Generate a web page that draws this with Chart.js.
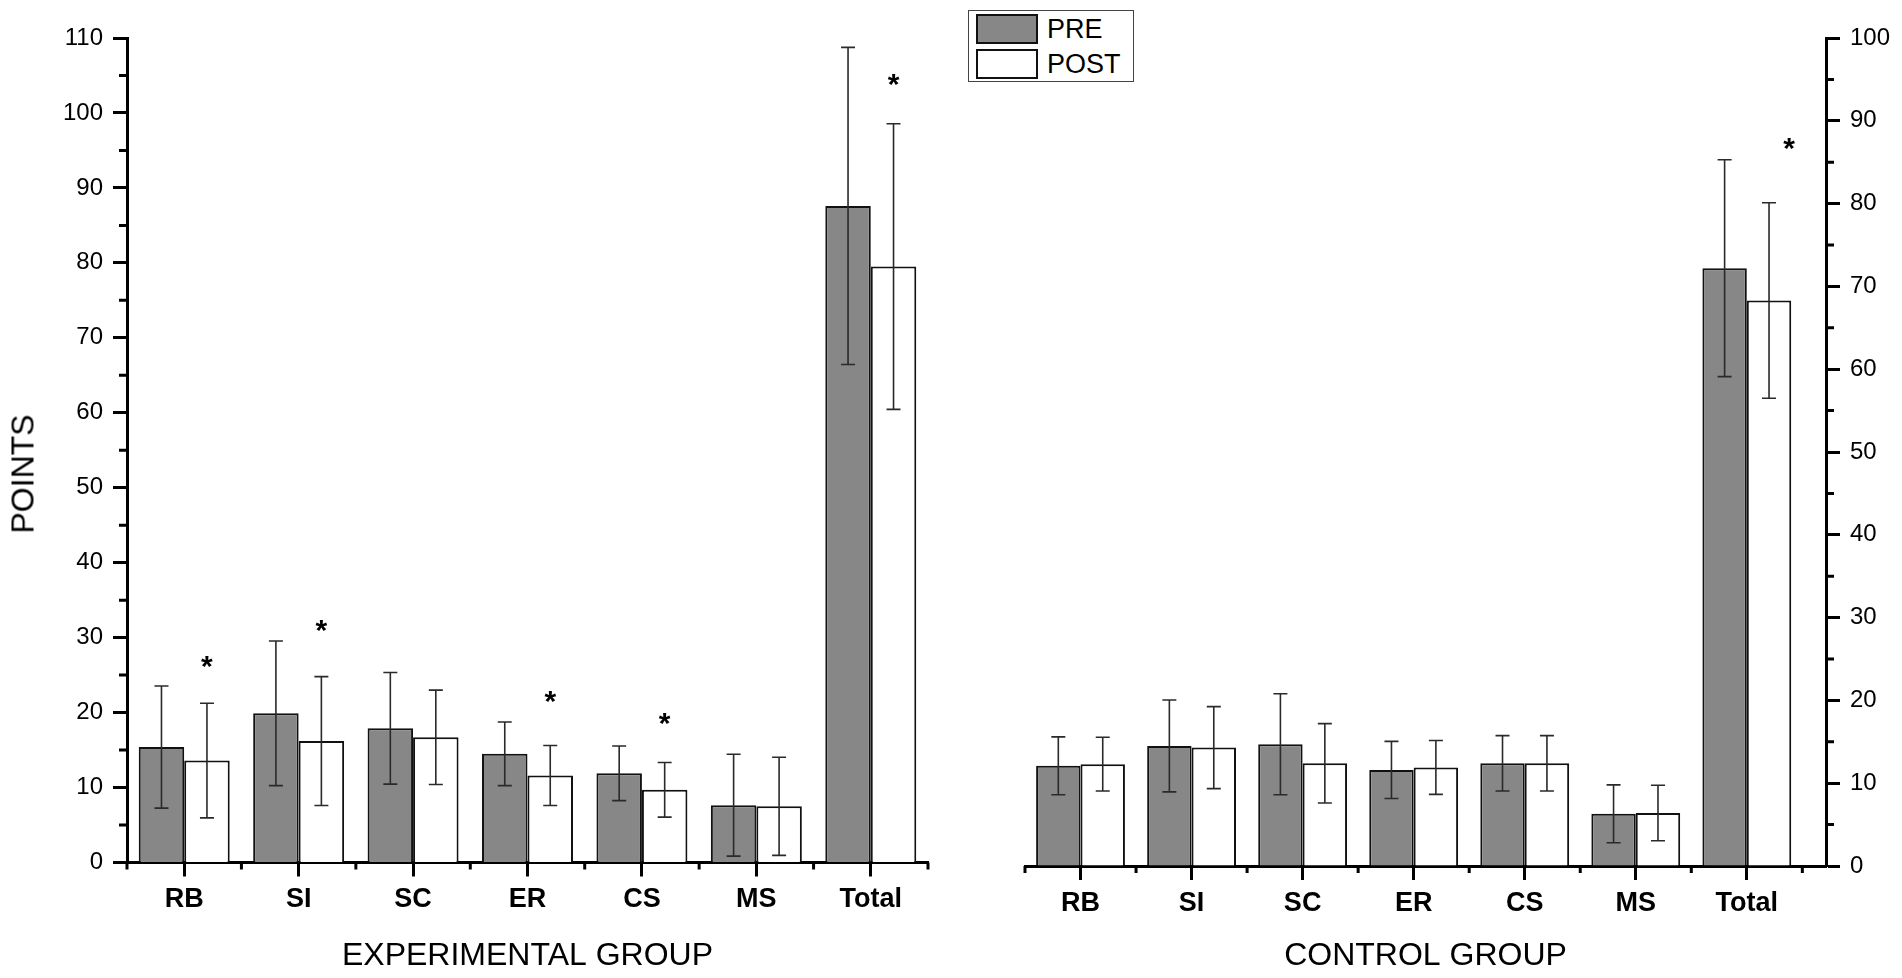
<!DOCTYPE html>
<html>
<head>
<meta charset="utf-8">
<title>PRE / POST points by group</title>
<script src="https://cdn.jsdelivr.net/npm/chart.js@4.4.1/dist/chart.umd.min.js"></script>
<style>
  html, body { margin: 0; padding: 0; background: #fff; }
  body {
    width: 1902px;
    height: 978px;
    position: relative;
    overflow: hidden;
    font-family: "Liberation Sans", Arial, sans-serif;
    color: #000;
  }
  canvas { position: absolute; left: 0; top: 0; }
  .y-title {
    position: absolute;
    left: 23px;
    top: 474px;
    transform: translate(-50%, -50%) rotate(-90deg);
    font-size: 32px;
    white-space: nowrap;
  }
  .legend {
    position: absolute;
    left: 968px;
    top: 10px;
    width: 164px;
    height: 70px;
    border: 1.5px solid #444;
    background: #fff;
  }
  .legend-item { position: absolute; left: 7px; height: 30px; }
  .legend-swatch {
    position: absolute;
    left: 0;
    top: 0;
    width: 58px;
    height: 26px;
    border: 2px solid #111;
  }
  .legend-label {
    position: absolute;
    left: 71px;
    top: 0;
    line-height: 30px;
    font-size: 27px;
  }
</style>
</head>
<body>
<canvas id="expChart" width="1902" height="978"></canvas>
<canvas id="ctlChart" width="1902" height="978"></canvas>
<div class="y-title">POINTS</div>
<div class="legend" id="legend"></div>

<script>
const categories = ["RB", "SI", "SC", "ER", "CS", "MS", "Total"];
const seriesNames = ["PRE", "POST"];

// Experimental group (left axis)
const expPre = [15.4, 19.9, 17.9, 14.5, 11.9, 7.65, 87.6];
const expPreSd = [8.15, 9.65, 7.45, 4.25, 3.65, 6.8, 21.15];
const expPost = [13.6, 16.2, 16.7, 11.6, 9.7, 7.5, 79.5];
const expPostSd = [7.65, 8.6, 6.3, 4.0, 3.65, 6.55, 19.05];
const expStars = [26.7, 31.5, null, 22.1, 19.1, null, 104.4];
const expTicks = [0, 10, 20, 30, 40, 50, 60, 70, 80, 90, 100, 110];

// Control group (right axis)
const ctlPre = [12.1, 14.5, 14.7, 11.6, 12.4, 6.3, 72.2];
const ctlPreSd = [3.5, 5.55, 6.1, 3.45, 3.35, 3.5, 13.1];
const ctlPost = [12.3, 14.3, 12.4, 11.9, 12.4, 6.4, 68.3];
const ctlPostSd = [3.25, 4.95, 4.8, 3.25, 3.35, 3.35, 11.8];
const ctlStars = [null, null, null, null, null, null, 87.2];
const ctlTicks = [0, 10, 20, 30, 40, 50, 60, 70, 80, 90, 100];

const PRE_COLOR = "#878787";
const POST_COLOR = "#ffffff";
const EDGE = "#111111";
const FONT = '"Liberation Sans", Arial, sans-serif';

Chart.defaults.font.family = FONT;
Chart.defaults.color = "#000";

document.addEventListener("DOMContentLoaded", () => {
  buildLegend();

  buildChart("expChart", {
    title: "EXPERIMENTAL GROUP",
    pre: expPre, preSd: expPreSd,
    post: expPost, postSd: expPostSd,
    stars: expStars, starDx: 0,
    yTicks: expTicks, yPosition: "left",
    xMax: categories.length - 0.5,
    padding: { left: 0, top: 38, right: 974, bottom: 0 },
    yWidth: 127, xHeight: 115.5,
    catPct: 0.795,
  });

  buildChart("ctlChart", {
    title: "CONTROL GROUP",
    pre: ctlPre, preSd: ctlPreSd,
    post: ctlPost, postSd: ctlPostSd,
    stars: ctlStars, starDx: 20,
    yTicks: ctlTicks, yPosition: "right",
    xMax: categories.length - 0.5 + 0.213,
    padding: { left: 1025, top: 38, right: 0, bottom: 0 },
    yWidth: 76, xHeight: 112,
    catPct: 0.8,
  });
});

function buildLegend() {
  const colors = [PRE_COLOR, POST_COLOR];
  document.getElementById("legend").innerHTML = seriesNames
    .map(
      (name, i) => `
        <div class="legend-item" style="top:${3 + i * 35}px">
          <div class="legend-swatch" style="background:${colors[i]}"></div>
          <div class="legend-label">${name}</div>
        </div>`
    )
    .join("");
}

function toPoints(values) {
  return values.map((v, i) => ({ x: i, y: v }));
}

function buildChart(canvasId, g) {
  const ctx = document.getElementById(canvasId).getContext("2d");
  const yMin = g.yTicks[0];
  const yMax = g.yTicks[g.yTicks.length - 1];

  return new Chart(ctx, {
    type: "bar",
    data: {
      datasets: [
        {
          label: seriesNames[0],
          data: toPoints(g.pre),
          backgroundColor: PRE_COLOR,
          borderColor: EDGE,
          borderWidth: 2,
        },
        {
          label: seriesNames[1],
          data: toPoints(g.post),
          backgroundColor: POST_COLOR,
          borderColor: EDGE,
          borderWidth: 2,
        },
      ],
    },
    options: {
      responsive: false,
      animation: false,
      events: [],
      layout: { padding: g.padding },
      datasets: {
        bar: { categoryPercentage: g.catPct, barPercentage: 1 },
      },
      plugins: {
        legend: { display: false },
        tooltip: { enabled: false },
      },
      scales: {
        x: {
          type: "linear",
          min: -0.5,
          max: g.xMax,
          offset: false,
          afterBuildTicks: (scale) => {
            scale.ticks = categories.map((c, i) => ({ value: i }));
          },
          afterFit: (scale) => {
            scale.height = g.xHeight;
          },
          ticks: {
            autoSkip: false,
            maxRotation: 0,
            padding: 7,
            font: { size: 27, weight: "bold" },
            color: "#000",
            callback: (value, index) => categories[index],
          },
          grid: {
            offset: false,
            drawOnChartArea: false,
            drawTicks: true,
            tickLength: 14,
            tickWidth: 3,
            tickColor: "#000",
          },
          border: { display: true, width: 3, color: "#000" },
          title: {
            display: true,
            text: g.title,
            font: { size: 32 },
            color: "#000",
            padding: { top: 0, bottom: 3 },
          },
        },
        y: {
          position: g.yPosition,
          min: yMin,
          max: yMax,
          afterBuildTicks: (scale) => {
            scale.ticks = g.yTicks.map((v) => ({ value: v }));
          },
          afterFit: (scale) => {
            scale.width = g.yWidth;
          },
          ticks: {
            padding: 10,
            font: { size: 24 },
            color: "#000",
          },
          grid: {
            drawOnChartArea: false,
            drawTicks: true,
            tickLength: 14,
            tickWidth: 3,
            tickColor: "#000",
          },
          border: { display: true, width: 3, color: "#000" },
        },
      },
    },
    plugins: [minorTicks(g), errorBars(g), stars(g)],
  });
}

// Short ticks between categories and halfway between labelled y ticks
function minorTicks(g) {
  return {
    id: "minorTicks",
    afterDraw(chart) {
      const { ctx, chartArea, scales } = chart;
      ctx.save();
      ctx.strokeStyle = "#000";
      ctx.lineWidth = 3;
      ctx.beginPath();
      for (let i = 0; i <= categories.length; i++) {
        const px = scales.x.getPixelForValue(i - 0.5);
        ctx.moveTo(px, chartArea.bottom);
        ctx.lineTo(px, chartArea.bottom + 7);
      }
      const edge = g.yPosition === "left" ? chartArea.left : chartArea.right;
      const dir = g.yPosition === "left" ? -1 : 1;
      for (let i = 0; i < g.yTicks.length - 1; i++) {
        const py = scales.y.getPixelForValue((g.yTicks[i] + g.yTicks[i + 1]) / 2);
        ctx.moveTo(edge, py);
        ctx.lineTo(edge + dir * 8, py);
      }
      ctx.stroke();
      ctx.restore();
    },
  };
}

// Mean +/- SD whiskers
function errorBars(g) {
  return {
    id: "errorBars",
    afterDatasetsDraw(chart) {
      const { ctx, scales } = chart;
      const sds = [g.preSd, g.postSd];
      const means = [g.pre, g.post];
      ctx.save();
      ctx.strokeStyle = "#2a2a2a";
      ctx.lineWidth = 1.6;
      sds.forEach((sd, d) => {
        chart.getDatasetMeta(d).data.forEach((bar, i) => {
          const hi = scales.y.getPixelForValue(means[d][i] + sd[i]);
          const lo = scales.y.getPixelForValue(means[d][i] - sd[i]);
          ctx.beginPath();
          ctx.moveTo(bar.x, hi);
          ctx.lineTo(bar.x, lo);
          ctx.moveTo(bar.x - 7, hi);
          ctx.lineTo(bar.x + 7, hi);
          ctx.moveTo(bar.x - 7, lo);
          ctx.lineTo(bar.x + 7, lo);
          ctx.stroke();
        });
      });
      ctx.restore();
    },
  };
}

// Significance asterisks above the POST bars
function stars(g) {
  return {
    id: "stars",
    afterDatasetsDraw(chart) {
      const { ctx, scales } = chart;
      ctx.save();
      ctx.font = "bold 30px " + FONT;
      ctx.fillStyle = "#000";
      ctx.textAlign = "center";
      ctx.textBaseline = "alphabetic";
      const m = ctx.measureText("*");
      const shift = (m.actualBoundingBoxAscent - m.actualBoundingBoxDescent) / 2;
      chart.getDatasetMeta(1).data.forEach((bar, i) => {
        if (g.stars[i] == null) return;
        const y = scales.y.getPixelForValue(g.stars[i]);
        ctx.fillText("*", bar.x + g.starDx, y + shift);
      });
      ctx.restore();
    },
  };
}
</script>
</body>
</html>
